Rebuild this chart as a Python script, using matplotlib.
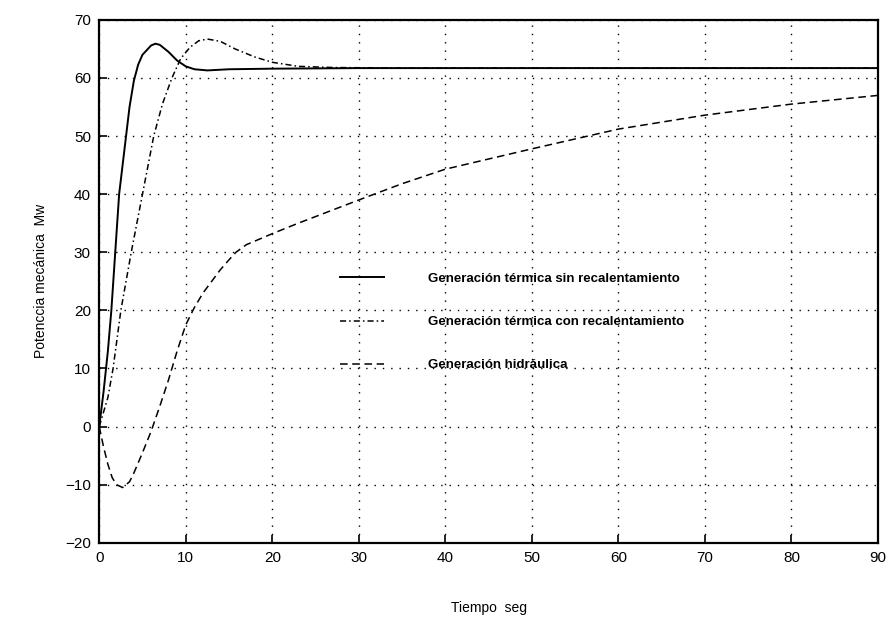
import matplotlib.pyplot as plt

plt.rcParams['font.family'] = ['Liberation Sans', 'DejaVu Sans']

# tiempo (seg) y potencia (MW)
t_sin = [0, 0.5, 1, 1.4, 1.85, 2.3, 3.1, 3.5, 4.0, 4.5, 5, 6, 6.5, 7, 8, 9, 10, 11, 12.5, 15, 20, 30, 90]
p_sin = [0, 6, 13, 20, 30, 40, 50, 55, 59.5, 62.3, 64, 65.6, 65.9, 65.7, 64.5, 63, 62, 61.5, 61.3, 61.5, 61.6, 61.7, 61.7]

t_con = [0, 1, 1.6, 2.5, 3.7, 5.0, 6.3, 7.3, 8.4, 9.4, 10.5, 11.5, 12.5, 14, 15.7, 18, 20, 23, 27, 35, 90]
p_con = [0, 5, 10, 20, 30, 40, 50, 55.5, 60, 63.3, 65.3, 66.4, 66.7, 66.3, 65, 63.6, 62.7, 62, 61.8, 61.7, 61.7]

t_hid = [0, 0.5, 1, 1.5, 2, 2.7, 3.5, 4, 5, 6, 7, 8, 9, 10, 11, 12, 13, 14, 15, 15.8, 17, 20, 23, 30, 35, 40, 50, 60, 70, 80, 90]
p_hid = [0, -3.5, -6.5, -8.8, -10, -10.5, -9.5, -8, -4.5, -0.8, 3.5, 8, 13, 17.5, 20.5, 23, 25, 27, 28.7, 30, 31.3, 33.2, 35, 39, 41.8, 44.3, 47.8, 51.2, 53.6, 55.5, 57]

labels = ['Generación térmica sin recalentamiento',
          'Generación térmica con recalentamiento',
          'Generación hidráulica']

fig = plt.figure(figsize=(8.94, 6.21), dpi=100)
ax = fig.add_axes([0.111, 0.126, 0.871, 0.842])

ax.plot(t_sin, p_sin, color='black', linestyle='-', linewidth=1.4, label=labels[0])
ax.plot(t_con, p_con, color='black', linestyle=(0, (4, 2, 1, 2)), linewidth=1.1, label=labels[1])
ax.plot(t_hid, p_hid, color='black', linestyle=(0, (5, 3)), linewidth=1.1, label=labels[2])

ax.set_xlim(0, 90)
ax.set_ylim(-20, 70)
ax.set_xticks(range(0, 91, 10))
ax.set_yticks(range(-20, 71, 10))
ax.grid(True, color='black', linestyle=(0, (1, 5)), linewidth=1.0)
ax.tick_params(direction='in', length=6, width=1.2, labelsize=11, pad=6)
for s in ax.spines.values():
    s.set_linewidth(1.6)

ax.set_xlabel('Tiempo  seg', fontsize=10, labelpad=26)
ax.set_ylabel('Potenccia mecánica  Mw', fontsize=10, labelpad=12)

leg = ax.legend(loc='center left', bbox_to_anchor=(0.294, 0.422), frameon=False,
                handlelength=3.3, labelspacing=2.35, handletextpad=3.4,
                prop={'weight': 'bold', 'size': 9.5})

fig.savefig('out.png', dpi=100)
